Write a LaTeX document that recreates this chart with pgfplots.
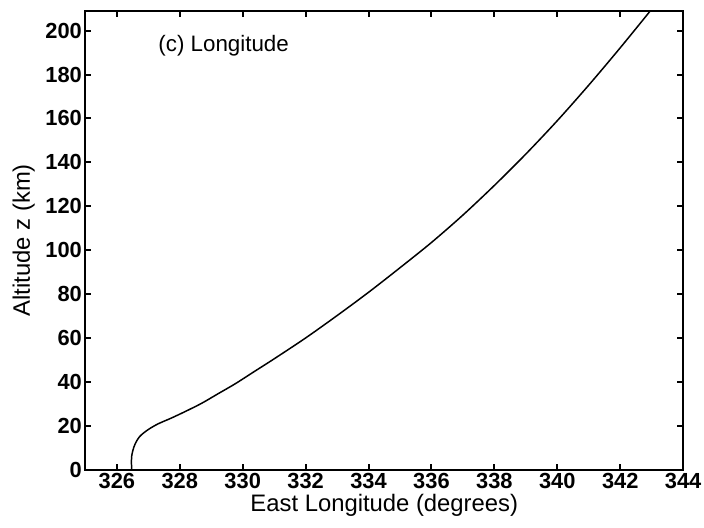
\documentclass[border=0pt]{standalone}
\usepackage{fontspec}
\setmainfont{Liberation Sans}
\usepackage{pgfplots}
\pgfplotsset{compat=1.18}
\begin{document}
\begin{tikzpicture}
\begin{axis}[
  scale only axis,
  width=602pt, height=462pt,
  xmin=325, xmax=344, ymin=0, ymax=209,
  xtick={326,328,...,344},
  ytick={0,20,...,200},
  /pgf/number format/assume math mode=true,
  /pgf/number format/set thousands separator={},
  tick label style={font=\fontsize{22}{26}\selectfont\bfseries},
  label style={font=\fontsize{24}{28}\selectfont},
  xlabel={East Longitude (degrees)},
  ylabel={Altitude z (km)},
  xlabel style={at={(axis description cs:0.5,-0.078)}, anchor=center},
  ylabel style={at={(axis description cs:-0.103,0.5)}, anchor=center},
  axis line style={line width=2.2pt},
  major tick length=6pt,
  tick style={line width=2pt, black},
  clip=true,
]
\coordinate (A) at (rel axis cs:0,0);
\coordinate (B) at (rel axis cs:1,1);
\addplot[black, line width=1.5pt, smooth] coordinates {
(326.47,0) (326.47,6) (326.56,11) (326.72,15) (326.98,18.1) (327.3,20.8)
(327.73,23.5) (328.16,26.4) (328.69,30.2) (329.23,34.7) (329.77,39.2)
(330.4,45.0) (331,50.5) (332,60) (333,70.2) (334,80.8) (335,92)
(336,103.5) (337,116) (338,129.5) (339,143.8) (340,159) (341,175.2)
(342,192.2) (343,209.8)
};
\node[anchor=west, font=\fontsize{22.5}{26}\selectfont] at (axis cs:327.21,193) {(c) Longitude};
\end{axis}
\pgfresetboundingbox
\path ([shift={(-86pt,-58pt)}]A) rectangle ([shift={(21pt,11pt)}]B);
\end{tikzpicture}
\end{document}
